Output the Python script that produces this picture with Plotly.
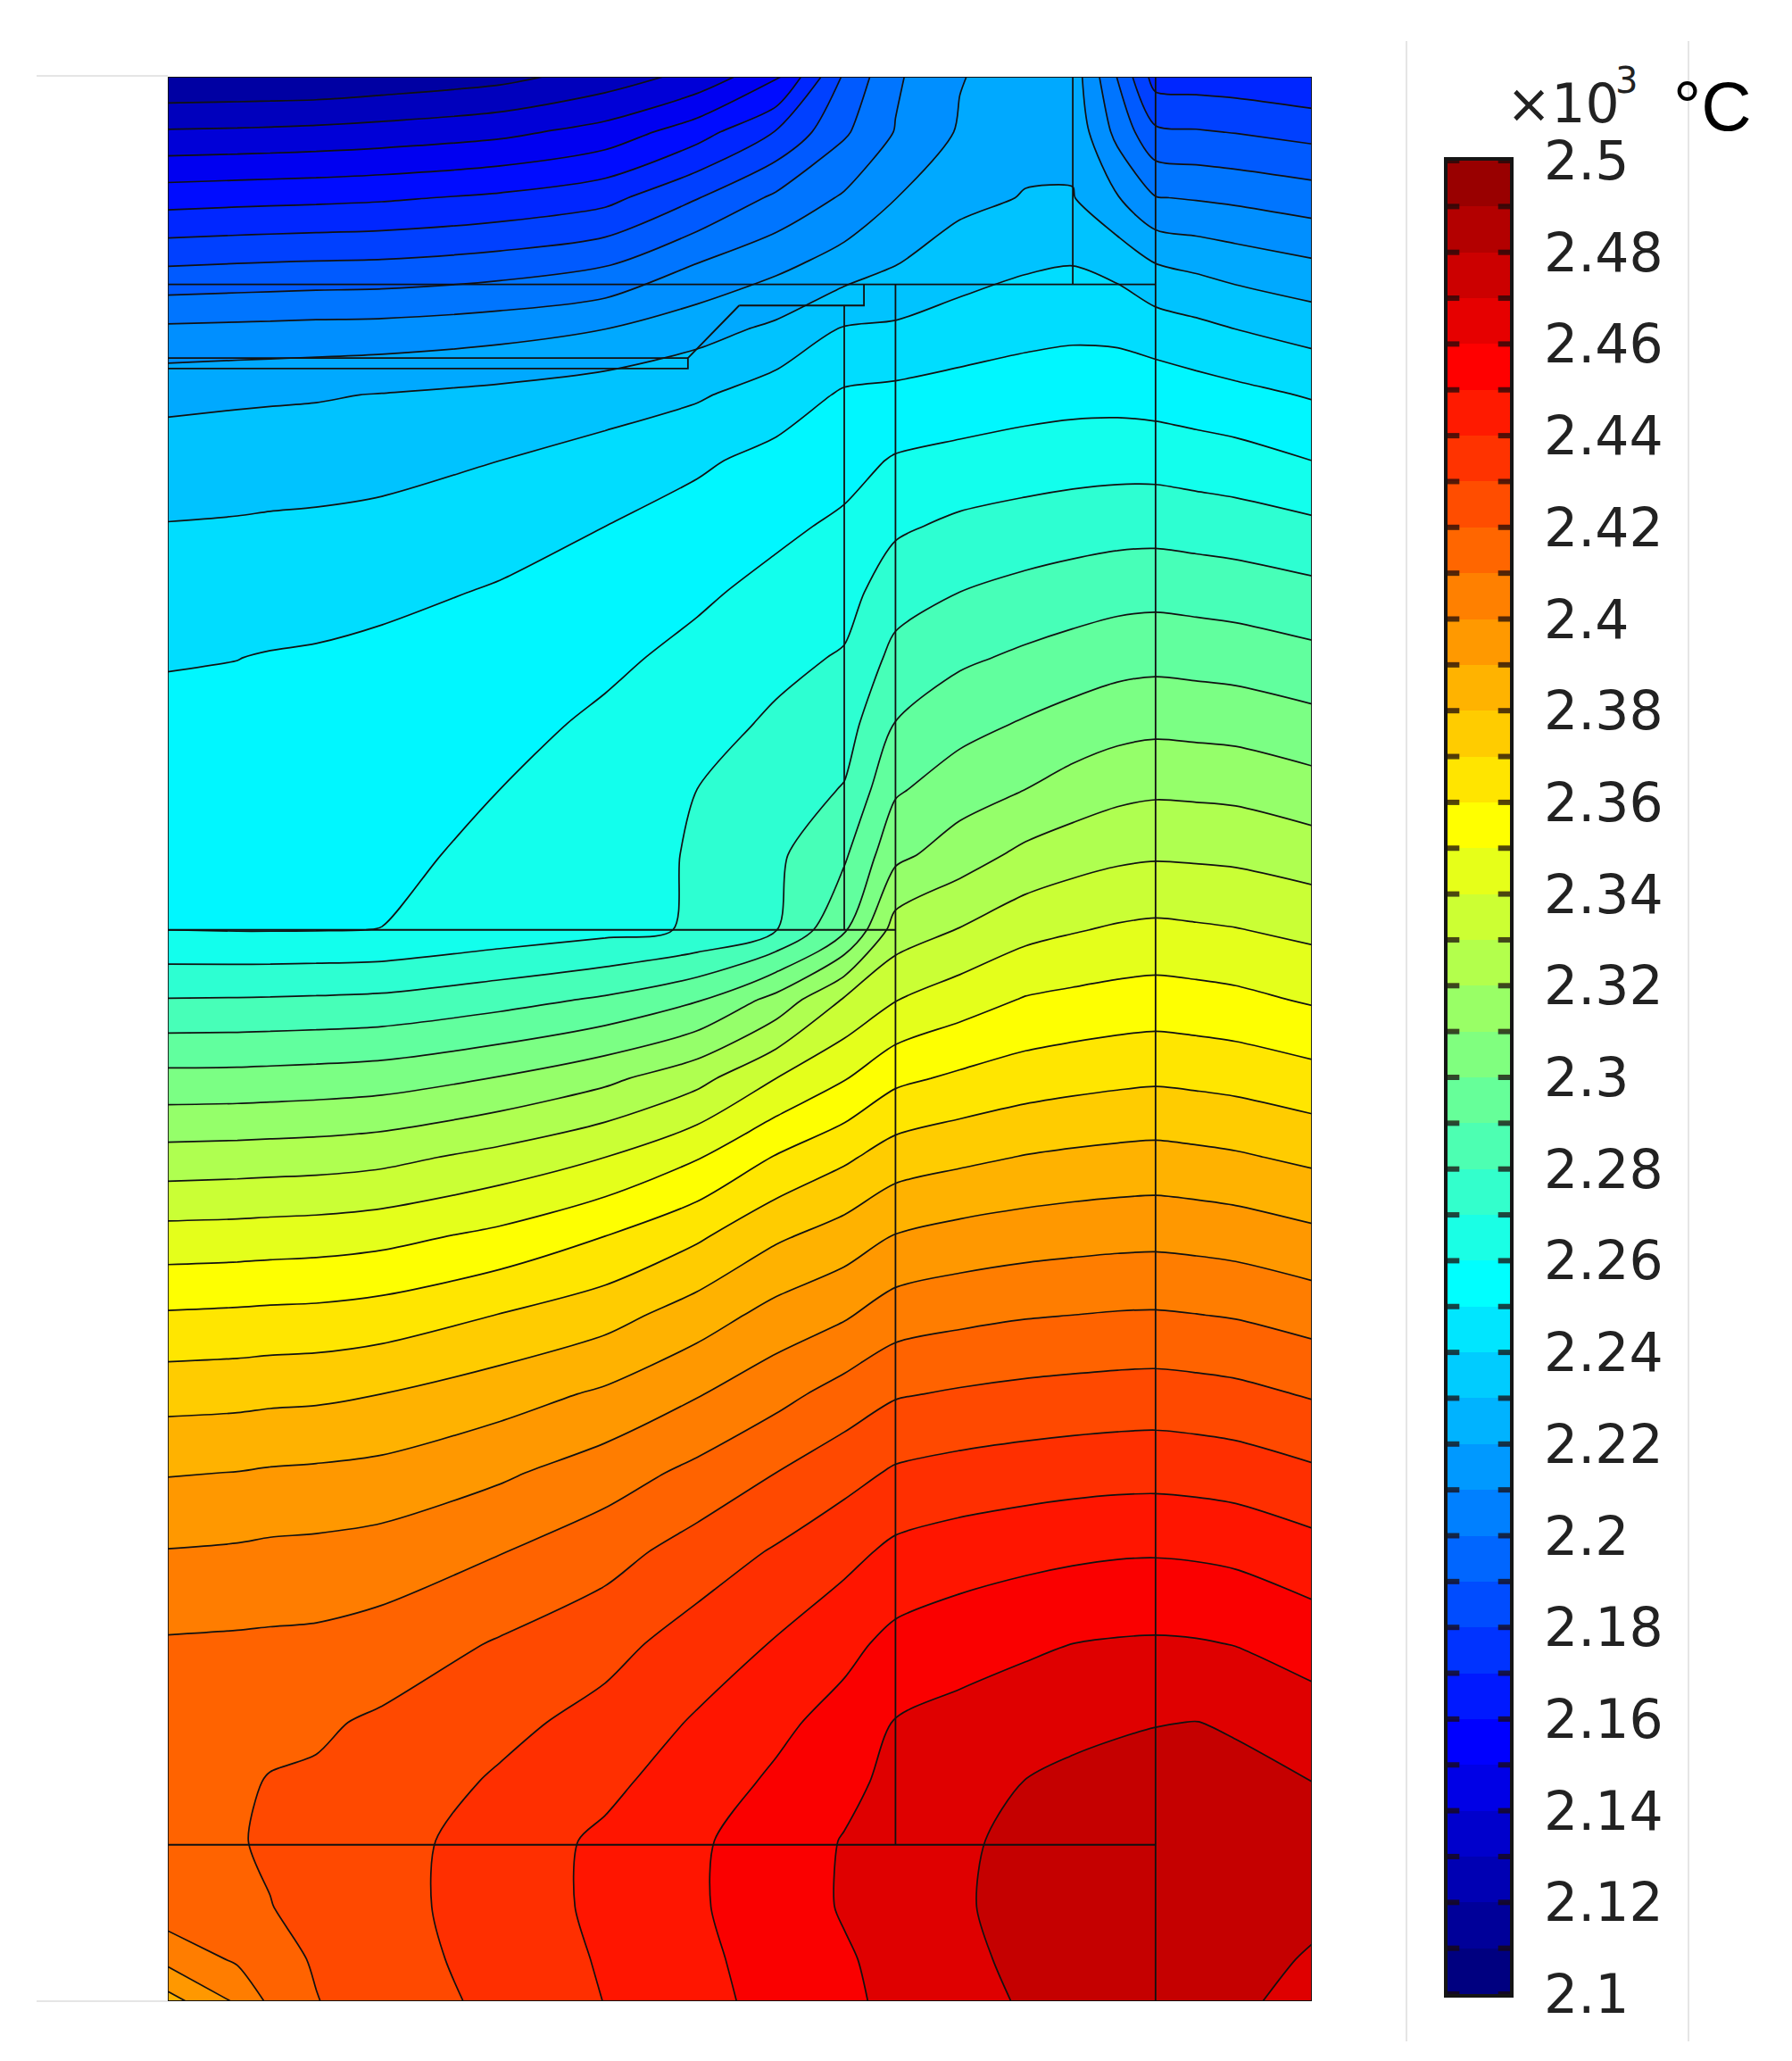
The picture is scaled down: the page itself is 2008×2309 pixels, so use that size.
import plotly.graph_objects as go

# isotherm field: temperature (x10^3 degC) per column, one value per row in y_pos
x_pos = [127, 180, 205, 240, 290, 380, 460, 530, 590, 642, 681, 730, 780, 816, 850, 879, 910, 940, 998]
y_pos = [58, 100, 150, 200, 250, 300, 350, 400, 450, 500, 550, 600, 650, 707, 760, 820, 880, 940, 1000, 1060, 1120, 1180, 1250, 1310, 1355, 1400, 1450, 1490, 1522]

col_127 = [2.120, 2.141, 2.1657, 2.189, 2.2118, 2.2276, 2.2347, 2.2404, 2.2449, 2.2494, 2.2522, 2.2547, 2.2572, 2.260, 2.2804, 2.303, 2.324, 2.3438, 2.361, 2.3762, 2.3894, 2.4004, 2.411, 2.416, 2.4165, 2.417, 2.416, 2.403, 2.386]
col_180 = [2.1205, 2.1415, 2.1667, 2.190, 2.2124, 2.2285, 2.2352, 2.2409, 2.2454, 2.2499, 2.2523, 2.2546, 2.257, 2.2596, 2.2806, 2.3032, 2.3246, 2.3443, 2.3617, 2.3768, 2.3902, 2.4012, 2.4115, 2.4165, 2.4185, 2.4195, 2.4175, 2.4115, 2.4015]
col_205 = [2.1207, 2.1419, 2.1671, 2.1904, 2.2127, 2.2288, 2.2356, 2.2413, 2.2459, 2.2505, 2.2526, 2.2549, 2.2572, 2.2596, 2.2808, 2.3036, 2.325, 2.3448, 2.3622, 2.3775, 2.391, 2.402, 2.4118, 2.4175, 2.4205, 2.421, 2.4198, 2.417, 2.412]
col_240 = [2.121, 2.1426, 2.1676, 2.1909, 2.2132, 2.2292, 2.2359, 2.2417, 2.2464, 2.251, 2.2528, 2.2552, 2.2575, 2.2597, 2.2812, 2.3042, 2.3255, 2.3453, 2.3626, 2.378, 2.3916, 2.4025, 2.4122, 2.4186, 2.4212, 2.4225, 2.4225, 2.4208, 2.4197]
col_290 = [2.123, 2.144, 2.1686, 2.1914, 2.2136, 2.2304, 2.2369, 2.2426, 2.2475, 2.2525, 2.2538, 2.2556, 2.2578, 2.2601, 2.282, 2.3054, 2.3271, 2.3469, 2.3643, 2.380, 2.3929, 2.404, 2.4143, 2.4215, 2.424, 2.426, 2.4265, 2.4255, 2.4245]
col_380 = [2.127, 2.1474, 2.1718, 2.1943, 2.2161, 2.2328, 2.240, 2.2459, 2.2509, 2.2539, 2.257, 2.260, 2.2622, 2.264, 2.2863, 2.3106, 2.3332, 2.3525, 2.3703, 2.3855, 2.3984, 2.4096, 2.4209, 2.4273, 2.4313, 2.4348, 2.4348, 2.4339, 2.4325]
col_460 = [2.1344, 2.1538, 2.1768, 2.1988, 2.220, 2.2357, 2.2436, 2.250, 2.254, 2.258, 2.2617, 2.264, 2.2665, 2.2672, 2.2914, 2.3176, 2.340, 2.360, 2.3761, 2.3916, 2.4051, 2.4161, 2.4266, 2.4334, 2.4376, 2.4418, 2.4421, 2.441, 2.4402]
col_530 = [2.1433, 2.1656, 2.1895, 2.210, 2.2262, 2.2388, 2.2485, 2.2539, 2.2584, 2.2626, 2.2662, 2.270, 2.2708, 2.271, 2.299, 2.3268, 2.3493, 2.3684, 2.3849, 2.3993, 2.4126, 2.4243, 2.4345, 2.4411, 2.4453, 2.4486, 2.4489, 2.4478, 2.447]
col_590 = [2.1575, 2.1805, 2.2019, 2.2172, 2.2321, 2.2448, 2.2529, 2.258, 2.2628, 2.2674, 2.2715, 2.2747, 2.2782, 2.2796, 2.3132, 2.340, 2.3607, 2.3784, 2.3935, 2.4067, 2.420, 2.431, 2.4407, 2.4478, 2.4515, 2.455, 2.4552, 2.4539, 2.453]
col_642 = [2.1915, 2.1985, 2.2113, 2.2242, 2.2409, 2.2512, 2.2566, 2.2617, 2.2663, 2.2709, 2.2756, 2.2806, 2.2885, 2.2985, 2.3309, 2.3494, 2.3682, 2.3844, 2.3988, 2.4139, 2.4265, 2.4369, 2.4472, 2.4536, 2.4575, 2.4605, 2.4608, 2.459, 2.4583]
col_681 = [2.2085, 2.2105, 2.2198, 2.2296, 2.2416, 2.2523, 2.2609, 2.2684, 2.2757, 2.2829, 2.2903, 2.2987, 2.3074, 2.3245, 2.3396, 2.3578, 2.3748, 2.3905, 2.4051, 2.4191, 2.4313, 2.4423, 2.4528, 2.4605, 2.4625, 2.4639, 2.4642, 2.4628, 2.462]
col_730 = [2.2195, 2.221, 2.2273, 2.2353, 2.2445, 2.254, 2.2629, 2.2721, 2.280, 2.2883, 2.2967, 2.3052, 2.3152, 2.3305, 2.3453, 2.3618, 2.3778, 2.3934, 2.4075, 2.4211, 2.4335, 2.445, 2.4559, 2.463, 2.4658, 2.4683, 2.4688, 2.4678, 2.4665]
col_780 = [2.2245, 2.227, 2.2305, 2.2386, 2.2469, 2.2556, 2.2649, 2.2741, 2.2829, 2.2918, 2.3009, 2.310, 2.3225, 2.3368, 2.3507, 2.365, 2.3805, 2.3953, 2.4093, 2.4226, 2.435, 2.447, 2.4585, 2.465, 2.4702, 2.4727, 2.4735, 2.4722, 2.471]
col_816 = [2.2255, 2.2275, 2.2305, 2.2397, 2.2479, 2.2565, 2.2659, 2.2754, 2.2847, 2.2942, 2.3038, 2.314, 2.3258, 2.3393, 2.3523, 2.3666, 2.3818, 2.3963, 2.410, 2.4234, 2.4359, 2.4482, 2.460, 2.4673, 2.4722, 2.4752, 2.4757, 2.4745, 2.4735]
col_850 = [2.1995, 2.2069, 2.2206, 2.2367, 2.2474, 2.2566, 2.2664, 2.2763, 2.2863, 2.2963, 2.3063, 2.3171, 2.328, 2.3412, 2.3536, 2.3678, 2.3827, 2.397, 2.4107, 2.424, 2.4365, 2.449, 2.4608, 2.4687, 2.4735, 2.4768, 2.4772, 2.476, 2.4752]
col_879 = [2.1755, 2.1919, 2.2104, 2.230, 2.2451, 2.2558, 2.2663, 2.2765, 2.2869, 2.297, 2.3074, 2.3183, 2.3289, 2.3421, 2.3543, 2.3685, 2.3832, 2.3973, 2.4109, 2.4243, 2.4367, 2.4492, 2.4611, 2.4696, 2.4745, 2.4778, 2.478, 2.4772, 2.476]
col_910 = [2.1748, 2.1908, 2.2092, 2.2277, 2.2426, 2.2543, 2.2651, 2.2756, 2.2861, 2.2963, 2.3068, 2.3179, 2.3285, 2.3413, 2.3535, 2.3677, 2.3823, 2.3966, 2.4102, 2.4236, 2.4361, 2.4487, 2.4607, 2.4702, 2.4752, 2.478, 2.4775, 2.4755, 2.4742]
col_940 = [2.174, 2.1896, 2.2079, 2.2252, 2.240, 2.2527, 2.2639, 2.2747, 2.2852, 2.2955, 2.3061, 2.3173, 2.3279, 2.3404, 2.3524, 2.3667, 2.3812, 2.3956, 2.4093, 2.4226, 2.4351, 2.4477, 2.4597, 2.4685, 2.4738, 2.476, 2.4755, 2.473, 2.4725]
col_998 = [2.171, 2.1867, 2.2048, 2.2213, 2.2361, 2.2492, 2.260, 2.272, 2.2826, 2.2927, 2.3031, 2.3138, 2.325, 2.3376, 2.3489, 2.3635, 2.378, 2.3923, 2.406, 2.4191, 2.4316, 2.4436, 2.4559, 2.4644, 2.470, 2.4722, 2.472, 2.4692, 2.4655]

columns = [col_127, col_180, col_205, col_240, col_290, col_380, col_460, col_530, col_590, col_642,
           col_681, col_730, col_780, col_816, col_850, col_879, col_910, col_940, col_998]
temps = [list(row) for row in zip(*columns)]

# edges of the model domains, same units as x_pos / y_pos
edges_x = [127, 998, 998, 127, 127, None, 879, 879, None, 816, 816, None, 127, 879, None, 681, 681, None,
           642, 642, None, 127, 681, None, 127, 879, None, 562, 657, 657, None, 562, 523, 523, 127, None, 523, 127]
edges_y = [58, 58, 1522, 1522, 58, None, 58, 1522, None, 58, 216, None, 216, 216, None, 216, 1403, None,
           232, 707, None, 707, 707, None, 1403, 1403, None, 232, 232, 216, None, 232, 272, 280, 280, None, 272, 272]

bar_labels = [2.1, 2.12, 2.14, 2.16, 2.18, 2.2, 2.22, 2.24, 2.26, 2.28, 2.3, 2.32, 2.34, 2.36, 2.38, 2.4, 2.42, 2.44, 2.46, 2.48, 2.5]
bar_levels = [2.1, 2.11, 2.12, 2.13, 2.14, 2.15, 2.16, 2.17, 2.18, 2.19, 2.2, 2.21, 2.22, 2.23, 2.24, 2.25, 2.26, 2.27, 2.28, 2.29,
              2.3, 2.31, 2.32, 2.33, 2.34, 2.35, 2.36, 2.37, 2.38, 2.39, 2.4, 2.41, 2.42, 2.43, 2.44, 2.45, 2.46, 2.47, 2.48, 2.49, 2.5]
bar_bands = [2.105, 2.115, 2.125, 2.135, 2.145, 2.155, 2.165, 2.175, 2.185, 2.195, 2.205, 2.215, 2.225, 2.235, 2.245, 2.255, 2.265, 2.275, 2.285, 2.295,
             2.305, 2.315, 2.325, 2.335, 2.345, 2.355, 2.365, 2.375, 2.385, 2.395, 2.405, 2.415, 2.425, 2.435, 2.445, 2.455, 2.465, 2.475, 2.485, 2.495]

# plotly picks a contour band's colour about one level above its lower edge, so pure colours sit at these stops
jet = [[0, "rgb(0,0,128)"], [0.03, "rgb(0,0,128)"], [0.155, "rgb(0,0,255)"], [0.405, "rgb(0,255,255)"],
       [0.655, "rgb(255,255,0)"], [0.905, "rgb(255,0,0)"], [1, "rgb(158,0,0)"]]
# same colours for the bar, where a cell takes the colour at its middle
jet_bar = [[0, "rgb(0,0,128)"], [0.0125, "rgb(0,0,128)"], [0.1375, "rgb(0,0,255)"], [0.3875, "rgb(0,255,255)"],
           [0.6375, "rgb(255,255,0)"], [0.8875, "rgb(255,0,0)"], [0.9875, "rgb(153,0,0)"], [1, "rgb(153,0,0)"]]

W, H = 2000, 2301  # the page adds an 8px body margin


def px(v):
    return (v - 8) / W


def py(v):
    return 1 - (v - 8) / H


levels = dict(start=2.1, end=2.5, size=0.01)

fig = go.Figure()
fig.add_contour(x=x_pos, y=y_pos, z=temps, showscale=False, zauto=False, zmin=2.1, zmax=2.5, colorscale=jet,
                contours=dict(levels, coloring="fill", showlines=False),
                line=dict(width=0, smoothing=0.8), hoverinfo="skip")
fig.add_contour(x=x_pos, y=y_pos, z=temps, showscale=False, zauto=False, zmin=2.1, zmax=2.5,
                contours=dict(levels, coloring="none"),
                line=dict(color="#111111", width=1.7, smoothing=0.8), hoverinfo="skip")
fig.add_scatter(x=edges_x, y=edges_y, mode="lines", line=dict(color="#111111", width=1.8), showlegend=False, hoverinfo="skip")

# colour bar as its own small axes, so the dark marks can sit on top of it
fig.add_heatmap(x=[0, 1], y=bar_levels, z=[[v] for v in bar_bands], xaxis="x2", yaxis="y2", showscale=False,
                zauto=False, zmin=2.1, zmax=2.5, colorscale=jet_bar, hoverinfo="skip")
mark_x, mark_y = [], []
for v in bar_levels:
    mark_x += [0, 0.19, None, 0.81, 1, None]
    mark_y += [v, v, None, v, v, None]
fig.add_scatter(x=mark_x, y=mark_y, xaxis="x2", yaxis="y2", mode="lines", cliponaxis=False,
                line=dict(color="rgba(25,10,10,0.75)", width=6), showlegend=False, hoverinfo="skip")

fig.update_layout(
    width=W, height=H, margin=dict(l=0, r=0, t=0, b=0, autoexpand=False), paper_bgcolor="white", plot_bgcolor="white",
    showlegend=False,
    xaxis=dict(domain=[px(188), px(1470)], range=[127, 998], visible=False),
    yaxis=dict(domain=[py(2242), py(86)], range=[1522, 58], visible=False),
    xaxis2=dict(domain=[px(1622), px(1692)], range=[0, 1], anchor="y2", showticklabels=False, ticks="", showgrid=False,
                zeroline=False, showline=True, mirror=True, linecolor="#151515", linewidth=4),
    yaxis2=dict(domain=[py(2234), py(180)], range=[2.1, 2.5], anchor="x2", side="right", showgrid=False, zeroline=False,
                showline=True, mirror=True, linecolor="#151515", linewidth=4,
                ticks="outside", ticklen=22, tickcolor="rgba(0,0,0,0)",
                tickmode="array", tickvals=bar_labels, ticktext=[f"{v:g}" for v in bar_labels],
                tickfont=dict(family="DejaVu Sans", size=60, color="#222222")),
)

fig.add_annotation(text="×10", xref="paper", yref="paper", x=px(1686), y=py(116), xanchor="left", yanchor="middle",
                   showarrow=False, font=dict(family="DejaVu Sans", size=60, color="#222222"))
fig.add_annotation(text="3", xref="paper", yref="paper", x=px(1808), y=py(90), xanchor="left", yanchor="middle",
                   showarrow=False, font=dict(family="DejaVu Sans", size=40, color="#222222"))
fig.add_annotation(text="°C", xref="paper", yref="paper", x=px(1873), y=py(119), xanchor="left", yanchor="middle",
                   showarrow=False, font=dict(family="Liberation Sans", size=78, color="black"))

# thin frame lines left over around the plot and the colour bar
for x0, x1, y0, y1 in [(41, 188, 85, 85), (41, 188, 2242, 2242), (1576, 1576, 46, 2287), (1892, 1892, 46, 2287)]:
    fig.add_shape(type="line", xref="paper", yref="paper", x0=px(x0), x1=px(x1), y0=py(y0), y1=py(y1),
                  line=dict(color="#dddddd", width=1.5))

fig.write_html("out.html")
